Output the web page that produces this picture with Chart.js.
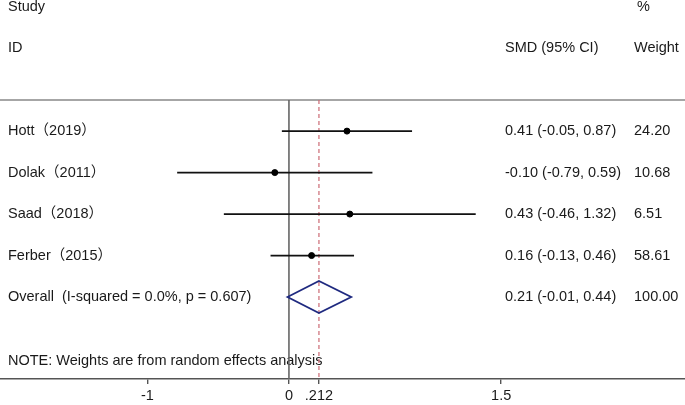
<!DOCTYPE html>
<html>
<head>
<meta charset="utf-8">
<script src="https://cdn.jsdelivr.net/npm/chart.js@4.4.1/dist/chart.umd.min.js"></script>
<style>
html,body{margin:0;padding:0;background:#fff;}
#wrap{width:685px;height:405px;position:relative;}
</style>
</head>
<body>
<div id="wrap"><canvas id="c"></canvas></div>
<script>
// ---- data ----
const studies = ['Hott（2019）', 'Dolak（2011）', 'Saad（2018）', 'Ferber（2015）'];
const smd     = [0.41, -0.10, 0.43, 0.16];
const ciLow   = [-0.05, -0.79, -0.46, -0.13];
const ciHigh  = [0.87, 0.59, 1.32, 0.46];
const weights = ['24.20', '10.68', '6.51', '58.61'];
const overallLabel = 'Overall  (I-squared = 0.0%, p = 0.607)';
const overallEst  = 0.212;
const overallLow  = -0.01;
const overallHigh = 0.44;
const overallWeight = '100.00';
const noteText = 'NOTE: Weights are from random effects analysis';
const tickValues = [-1, 0, 0.212, 1.5];
const tickLabels = ['-1', '0', '.212', '1.5'];

// ---- styling / layout constants ----
const FONT = "'Liberation Sans', Arial, 'Noto Sans CJK SC', sans-serif";
const FS = 14.5;
const TXT = '#1a1a1a';
const COL_LABEL = 8, COL_SMD = 505, COL_W = 634;
const ROW_OVERALL = studies.length + 1;

const ciDatasets = studies.map((s, i) => ({
  type: 'line',
  data: [{x: ciLow[i], y: i + 1}, {x: ciHigh[i], y: i + 1}],
  borderColor: '#111',
  borderWidth: 1.8,
  pointRadius: 0,
  order: 2
}));

const pointDataset = {
  type: 'scatter',
  data: smd.map((v, i) => ({x: v, y: i + 1})),
  backgroundColor: '#000',
  borderColor: '#000',
  pointRadius: 3,
  order: 1
};

const forestPlugin = {
  id: 'forest',
  beforeDatasetsDraw(chart) {
    const {ctx, chartArea, scales: {x, y}} = chart;
    ctx.save();
    ctx.fillStyle = TXT;
    ctx.font = FS + 'px ' + FONT;
    ctx.textBaseline = 'middle';
    ctx.textAlign = 'left';
    // headers
    const yH1 = y.getPixelForValue(-2), yH2 = y.getPixelForValue(-1);
    ctx.fillText('Study', COL_LABEL, yH1);
    ctx.fillText('ID', COL_LABEL, yH2);
    ctx.fillText('%', COL_W + 3, yH1);
    ctx.fillText('SMD (95% CI)', COL_SMD, yH2);
    ctx.fillText('Weight', COL_W, yH2);
    // rows
    studies.forEach((s, i) => {
      const py = y.getPixelForValue(i + 1);
      ctx.fillText(s, COL_LABEL, py);
      ctx.fillText(smd[i].toFixed(2) + ' (' + ciLow[i].toFixed(2) + ', ' + ciHigh[i].toFixed(2) + ')', COL_SMD, py);
      ctx.fillText(weights[i], COL_W, py);
    });
    const po = y.getPixelForValue(ROW_OVERALL);
    ctx.fillText(overallLabel, COL_LABEL, po);
    ctx.fillText(overallEst.toFixed(2) + ' (' + overallLow.toFixed(2) + ', ' + overallHigh.toFixed(2) + ')', COL_SMD, po);
    ctx.fillText(overallWeight, COL_W, po);
    ctx.fillText(noteText, COL_LABEL, y.getPixelForValue(ROW_OVERALL + 1.54));

    // top rule
    ctx.strokeStyle = '#888';
    ctx.lineWidth = 1.5;
    ctx.beginPath();
    ctx.moveTo(0, chartArea.top);
    ctx.lineTo(chart.width, chartArea.top);
    ctx.stroke();
    // null line
    const x0 = x.getPixelForValue(0);
    ctx.strokeStyle = '#666';
    ctx.lineWidth = 1.6;
    ctx.beginPath();
    ctx.moveTo(x0, chartArea.top);
    ctx.lineTo(x0, chartArea.bottom);
    ctx.stroke();
    // overall dashed line
    const xe = x.getPixelForValue(overallEst);
    ctx.strokeStyle = '#cc6a74';
    ctx.lineWidth = 1.2;
    ctx.setLineDash([4, 3]);
    ctx.beginPath();
    ctx.moveTo(xe, chartArea.top);
    ctx.lineTo(xe, chartArea.bottom);
    ctx.stroke();
    ctx.setLineDash([]);
    // diamond
    const xl = x.getPixelForValue(overallLow), xh = x.getPixelForValue(overallHigh);
    const hh = 16;
    ctx.strokeStyle = '#1f2a80';
    ctx.lineWidth = 1.8;
    ctx.lineJoin = 'miter';
    ctx.beginPath();
    ctx.moveTo(xl, po);
    ctx.lineTo(xe, po - hh);
    ctx.lineTo(xh, po);
    ctx.lineTo(xe, po + hh);
    ctx.closePath();
    ctx.stroke();
    ctx.restore();
  }
};

new Chart(document.getElementById('c'), {
  data: { datasets: [...ciDatasets, pointDataset] },
  options: {
    responsive: true,
    maintainAspectRatio: false,
    animation: false,
    layout: { autoPadding: false, padding: { top: 100, left: 0, right: 0, bottom: 0 } },
    plugins: { legend: { display: false }, tooltip: { enabled: false } },
    scales: {
      x: {
        type: 'linear',
        position: 'bottom',
        min: -2.042,
        max: 2.799,
        afterBuildTicks(s) { s.ticks = tickValues.map(v => ({value: v})); },
        afterFit(s) { s.height = 26; },
        ticks: {
          autoSkip: false,
          maxRotation: 0,
          padding: 3,
          color: TXT,
          font: { family: FONT, size: FS },
          callback(v, i) { return tickLabels[i]; }
        },
        grid: { display: true, drawOnChartArea: false, drawTicks: true, tickLength: 5, color: '#555', lineWidth: 1.4 },
        border: { display: true, color: '#555', width: 1.5 }
      },
      y: {
        type: 'linear',
        display: false,
        reverse: true,
        min: 0.25,
        max: 6.976
      }
    }
  },
  plugins: [forestPlugin]
});
</script>
</body>
</html>
